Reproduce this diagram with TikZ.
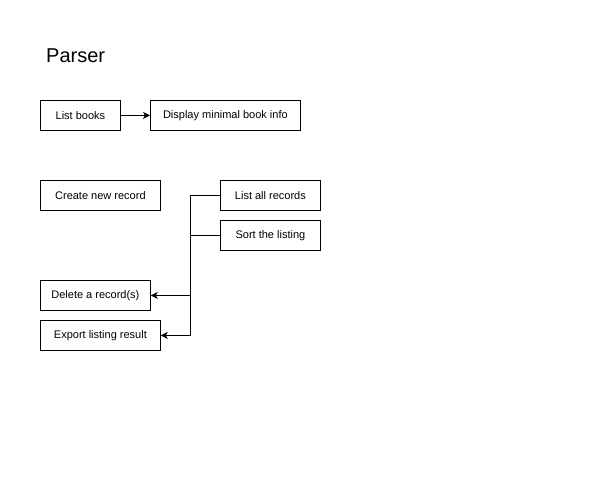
\documentclass[tikz,border=0pt]{standalone}
\usepackage{fontspec}
\setmainfont{Liberation Sans}
\usetikzlibrary{arrows.meta}
\begin{document}
\begin{tikzpicture}[x=1pt,y=-1pt,
  box/.style={draw,line width=0.8pt,inner sep=0pt,anchor=north west,font=\fontsize{11}{13}\selectfont},
  conn/.style={line width=0.8pt},
  arr/.style={conn,-{Stealth[length=7pt,width=7pt,inset=2pt]}}]
\useasboundingbox[fill=white] (0,0) rectangle (600,500);
\node[anchor=base west,inner sep=0pt,font=\fontsize{20}{24}\selectfont] (title) at (46,63) {Parser};
\node[box,minimum width=80pt,minimum height=30pt] (lb) at (40,100) {List books};
\node[box,minimum width=150pt,minimum height=30pt] (dm) at (150,100) {Display minimal book info};
\node[box,minimum width=120pt,minimum height=30pt] (cr) at (40,180) {Create new record};
\node[box,minimum width=100pt,minimum height=30pt] (la) at (220,180) {List all records};
\node[box,minimum width=100pt,minimum height=30pt] (st) at (220,220) {Sort the listing};
\node[box,minimum width=110pt,minimum height=30pt] (dr) at (40,280) {Delete a record(s)};
\node[box,minimum width=120pt,minimum height=30pt] (ex) at (40,320) {Export listing result};
\coordinate (jx) at (190,0);
\draw[arr] (lb.east) -- (dm.west);
\draw[arr] (la.west) -- (la.west -| jx) |- (ex.east);
\draw[arr] (st.west) -- (st.west -| jx) |- (dr.east);
\end{tikzpicture}
\end{document}
